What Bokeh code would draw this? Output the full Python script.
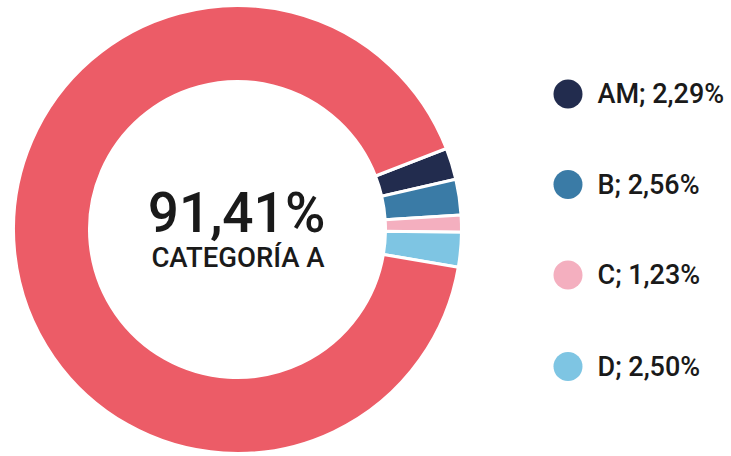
import math
from bokeh.plotting import figure
from bokeh.models import ColumnDataSource, Range1d
from bokeh.core.properties import value
from bokeh.embed import file_html
from bokeh.resources import INLINE

# Data
categories = ["AM", "B", "C", "D", "A"]
percentages = [2.29, 2.56, 1.23, 2.50, 91.41]
colors = ["#222C4E", "#3A7BA6", "#F4AFBF", "#7EC5E3", "#EC5C67"]
legend_labels = ["AM; 2,29%", "B; 2,56%", "C; 1,23%", "D; 2,50%"]
center_value = "91,41%"
center_label = "CATEGORÍA A"

W, H = 731, 456
FONT = "'Roboto Medium', Roboto"
p = figure(width=W, height=H, output_backend="svg", toolbar_location=None,
           x_range=Range1d(0, W), y_range=Range1d(0, H), min_border=0,
           outline_line_color=None, background_fill_color="white",
           border_fill_color="white")
p.axis.visible = False
p.grid.visible = False

def Y(y_ref):
    return H - y_ref

cx, cy = 237, Y(229)
r_out, r_in = 224, 148
start_deg = 21.2
total = sum(percentages)
starts, ends = [], []
a = start_deg
for v in percentages:
    starts.append(math.radians(a))
    a -= v / total * 360.0
    ends.append(math.radians(a))

src = ColumnDataSource(dict(start=starts, end=ends, color=colors, cat=categories))
p.annular_wedge(x=cx, y=cy, inner_radius=r_in, outer_radius=r_out,
                start_angle="start", end_angle="end", direction="clock",
                fill_color="color", line_color="white", line_width=3, source=src)

# Center texts
p.text(x=[236], y=[Y(212)], text=[center_value], text_font=value(FONT),
       text_font_size="55px", text_color="#1A1A1A", text_align="center",
       text_baseline="middle")
p.text(x=[237.5], y=[Y(256.5)], text=[center_label], text_font=value(FONT),
       text_font_size="27.5px", text_color="#1A1A1A", text_align="center",
       text_baseline="middle")

# Legend
leg_y_ref = [93.5, 184, 274.5, 366]
leg_y = [Y(y) for y in leg_y_ref]
leg_src = ColumnDataSource(dict(y=leg_y, color=colors[:4], label=legend_labels))
p.scatter(x=567.5, y="y", size=29, marker="circle", fill_color="color",
          line_color=None, source=leg_src)
p.text(x=597, y="y", text="label", source=leg_src, text_font=value(FONT),
       text_font_size="27px", text_color="#1A1A1A", text_align="left",
       text_baseline="middle")

open("out.html", "w").write(file_html(p, INLINE))
